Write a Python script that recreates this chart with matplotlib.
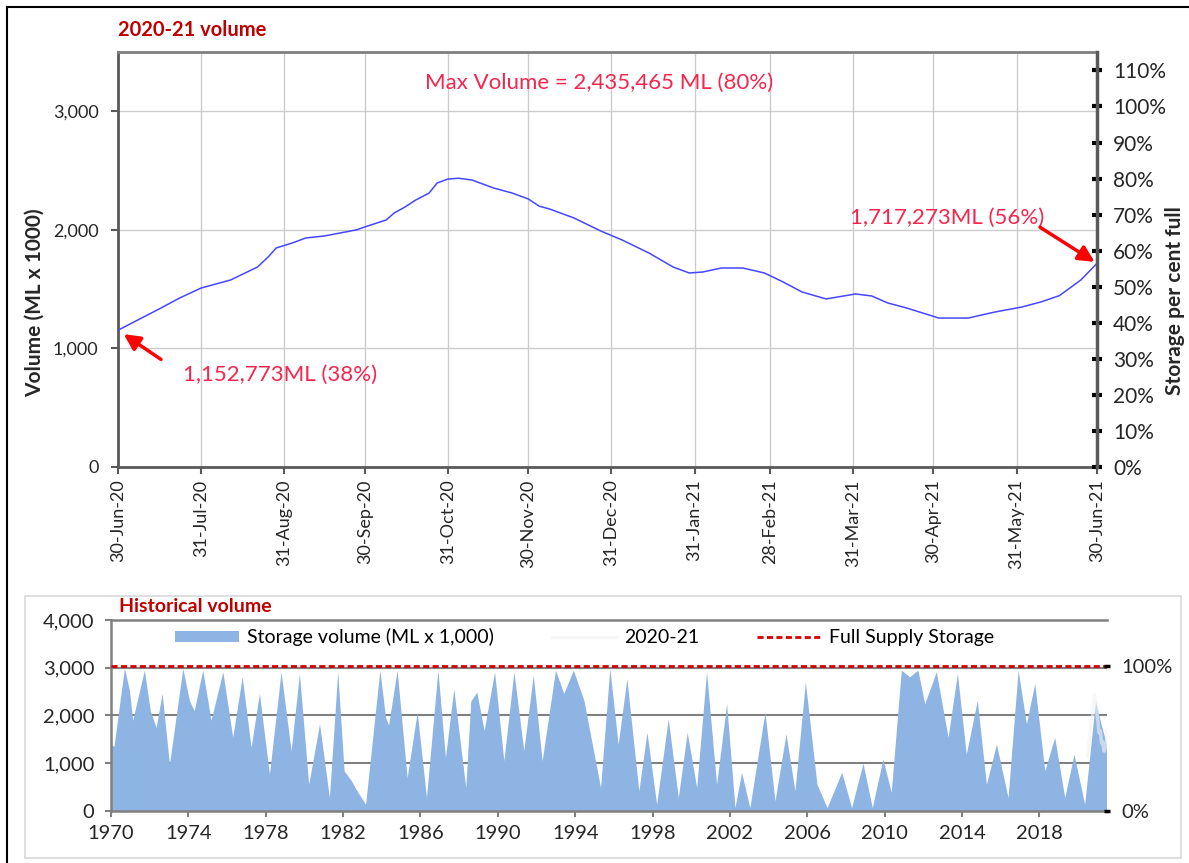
import matplotlib
matplotlib.use("Agg")
import matplotlib.pyplot as plt
from matplotlib.ticker import FuncFormatter, PercentFormatter
from matplotlib.lines import Line2D
from matplotlib.patches import Rectangle
import pandas as pd

plt.rcParams["font.family"] = ["Lato", "DejaVu Sans"]

FULL_SUPPLY = 3040  # ML x 1000, the 100% mark

# 2020-21 storage volume (ML x 1000)
season_dates = [
    "2020-06-30", "2020-07-16", "2020-07-23", "2020-07-31", "2020-08-11",
    "2020-08-21", "2020-08-25", "2020-08-28", "2020-09-03", "2020-09-08",
    "2020-09-15", "2020-09-27", "2020-09-30", "2020-10-08", "2020-10-11",
    "2020-10-15", "2020-10-19", "2020-10-24", "2020-10-27", "2020-10-31",
    "2020-11-04", "2020-11-09", "2020-11-17", "2020-11-24", "2020-11-30",
    "2020-12-04", "2020-12-08", "2020-12-17", "2020-12-27", "2021-01-04",
    "2021-01-14", "2021-01-23", "2021-01-29", "2021-02-03", "2021-02-10",
    "2021-02-18", "2021-02-26", "2021-03-05", "2021-03-12", "2021-03-21",
    "2021-04-01", "2021-04-07", "2021-04-13", "2021-04-20", "2021-05-02",
    "2021-05-13", "2021-05-23", "2021-06-02", "2021-06-09", "2021-06-16",
    "2021-06-24", "2021-06-30",
]
season_volume = [
    1153, 1340, 1425, 1509, 1577,
    1686, 1771, 1847, 1889, 1931,
    1948, 2000, 2024, 2083, 2142,
    2192, 2251, 2310, 2395, 2428,
    2435, 2420, 2353, 2310, 2260,
    2200, 2175, 2100, 1990, 1914,
    1804, 1686, 1636, 1644, 1678,
    1678, 1636, 1560, 1476, 1417,
    1459, 1442, 1383, 1341, 1256,
    1256, 1307, 1349, 1391, 1445,
    1577, 1717,
]
month_ticks = [
    "30-Jun-20", "31-Jul-20", "31-Aug-20", "30-Sep-20", "31-Oct-20",
    "30-Nov-20", "31-Dec-20", "31-Jan-21", "28-Feb-21", "31-Mar-21",
    "30-Apr-21", "31-May-21", "30-Jun-21",
]
vol_ticks = [0, 1000, 2000, 3000]
pct_ticks = list(range(0, 111, 10))

# historical volume (ML x 1000), peaks and troughs
hist_years = [
    1970.0, 1970.15, 1970.69, 1970.95, 1971.12, 1971.72, 1972.03, 1972.33,
    1972.64, 1973.02, 1973.71, 1974.05, 1974.3, 1974.74, 1975.17, 1975.78,
    1976.29, 1976.78, 1977.24, 1977.67, 1978.19, 1978.79, 1979.31, 1979.74,
    1980.22, 1980.78, 1981.29, 1981.72, 1982.05, 1982.4, 1982.72, 1983.16,
    1983.9, 1984.19, 1984.35, 1984.79, 1985.31, 1985.83, 1986.31, 1986.9,
    1987.29, 1987.72, 1988.34, 1988.6, 1988.91, 1989.29, 1989.83, 1990.31,
    1990.83, 1991.34, 1991.83, 1992.29, 1992.98, 1993.41, 1993.9, 1994.45,
    1995.31, 1995.79, 1996.22, 1996.67, 1997.29, 1997.71, 1998.21, 1998.81,
    1999.33, 1999.79, 2000.28, 2000.79, 2001.31, 2001.83, 2002.26, 2002.6,
    2003.03, 2003.81, 2004.33, 2004.9, 2005.36, 2005.9, 2006.5, 2007.02,
    2007.78, 2008.29, 2008.88, 2009.36, 2009.91, 2010.34, 2010.86, 2011.29,
    2011.72, 2012.07, 2012.67, 2013.28, 2013.76, 2014.22, 2014.79, 2015.26,
    2015.78, 2016.38, 2016.9, 2017.33, 2017.76, 2018.28, 2018.79, 2019.31,
    2019.79, 2020.34, 2020.9, 2021.2, 2021.47,
]
hist_volume = [
    1400, 1350, 2990, 2530, 1900, 2950, 2100, 1750,
    2460, 980, 2985, 2316, 2100, 2950, 1900, 2915,
    1545, 2810, 1334, 2460, 770, 2915, 1264, 2880,
    560, 1825, 280, 2915, 840, 650, 420, 140,
    2950, 1965, 1800, 2950, 700, 2070, 280, 2950,
    1120, 2560, 490, 2300, 2490, 1685, 2915, 1050,
    2915, 1264, 2845, 1050, 2950, 2460, 2950, 2316,
    490, 2985, 1400, 2770, 420, 1650, 140, 1930,
    280, 1650, 490, 2915, 560, 2245, 70, 810,
    70, 2070, 210, 1615, 420, 2700, 560, 70,
    810, 70, 1000, 70, 1090, 390, 2950, 2810,
    2950, 2245, 2915, 1545, 2880, 1190, 2316, 560,
    1400, 280, 2950, 1825, 2670, 840, 1545, 280,
    1190, 140, 2300, 1800, 1400,
]
hist_vol_ticks = [0, 1000, 2000, 3000, 4000]
hist_year_ticks = list(range(1970, 2019, 4))

RED_TEXT = "#f5254d"
DARK_RED = "#c00000"
AXIS_DARK = "#595959"
TICK_TEXT = "#262626"

fig = plt.figure(figsize=(11.89, 8.63), dpi=100)
comma = FuncFormatter(lambda v, pos: f"{v:,.0f}")

# ---------------- top: 2020-21 volume ----------------
ax = fig.add_axes([0.0992, 0.4589, 0.8234, 0.4809])
dates = pd.to_datetime(season_dates)
ax.plot(dates, season_volume, color="#4646ff", lw=1.1, zorder=3)

ticks = pd.to_datetime(month_ticks, format="%d-%b-%y")
ax.set_xlim(ticks[0], ticks[-1])
ax.set_xticks(ticks)
ax.set_xticklabels(month_ticks, rotation=90, fontsize=13, color=TICK_TEXT)
ax.set_ylim(0, 3500)
ax.set_yticks(vol_ticks)
ax.yaxis.set_major_formatter(comma)
ax.tick_params(axis="y", labelsize=13, labelcolor=TICK_TEXT, color=AXIS_DARK,
               length=5, width=1.5, pad=9)
ax.tick_params(axis="x", color=AXIS_DARK, length=5, width=1.5, pad=4)
ax.grid(True, color="#cccccc", lw=1.0)
ax.set_axisbelow(True)
for side in ("left", "bottom"):
    ax.spines[side].set_color(AXIS_DARK)
    ax.spines[side].set_linewidth(2)
ax.spines["top"].set_color("#7f7f7f")
ax.spines["top"].set_linewidth(2)
ax.spines["right"].set_visible(False)

ax.set_ylabel("Volume (ML x 1000)", fontsize=15, fontweight="bold", color=TICK_TEXT)
ax.yaxis.set_label_coords(-0.0746, 0.395)

ax2 = ax.twinx()
ax2.set_ylim(0, 3500 / FULL_SUPPLY * 100)
ax2.set_yticks(pct_ticks)
ax2.yaxis.set_major_formatter(PercentFormatter(decimals=0))
ax2.tick_params(axis="y", direction="inout", length=7, width=3, color="black",
                labelsize=15, labelcolor=TICK_TEXT, pad=8)
for side in ("left", "top", "bottom"):
    ax2.spines[side].set_visible(False)
ax2.spines["right"].set_color(AXIS_DARK)
ax2.spines["right"].set_linewidth(2.5)
ax2.set_ylabel("Storage per cent full", fontsize=15, fontweight="bold", color=TICK_TEXT)
ax2.yaxis.set_label_coords(1.0695, 0.40)

ax.text(0.0, 1.053, "2020-21 volume", transform=ax.transAxes, fontsize=14.5,
        fontweight="bold", color=DARK_RED, ha="left", va="center")

ax.text(0.491, 0.925, "Max Volume = 2,435,465 ML (80%)",
        transform=ax.transAxes, fontsize=16, color=RED_TEXT, ha="center", va="center")
ax.text(0.847, 0.600, "1,717,273ML (56%)", transform=ax.transAxes, fontsize=16,
        color=RED_TEXT, ha="center", va="center")
ax.text(0.166, 0.222, "1,152,773ML (38%)", transform=ax.transAxes, fontsize=16,
        color=RED_TEXT, ha="center", va="center")

arrow = dict(arrowstyle="-|>", color="#ff0000", lw=2.5, mutation_scale=24,
             shrinkA=0, shrinkB=2)
ax.annotate("", xy=(dates[-1], season_volume[-1]), xytext=(-41, 26),
            textcoords="offset points", arrowprops=arrow, zorder=5)
ax.annotate("", xy=(dates[0], season_volume[0]), xytext=(31, -21),
            textcoords="offset points", arrowprops=dict(arrow, shrinkB=5), zorder=5)

# ---------------- bottom: historical volume ----------------
axb = fig.add_axes([0.0934, 0.0603, 0.8377, 0.2213])
axb.fill_between(hist_years, hist_volume, color="#8db4e2", lw=0, zorder=2,
                 label="Storage volume (ML x 1,000)")
season_years = [2020.5 + (d - dates[0]).days / 365 for d in dates]
axb.plot(season_years, season_volume, color="#f2f2f2", lw=2.5, alpha=0.6, zorder=3,
         label="2020-21")
axb.axhline(FULL_SUPPLY, color="#d40000", ls=(0, (2.2, 1.2)), lw=2, zorder=4,
            label="Full Supply Storage")

axb.set_xlim(1970, 2021.5)
axb.set_ylim(0, 4000)
axb.set_xticks(hist_year_ticks)
axb.set_yticks(hist_vol_ticks)
axb.yaxis.set_major_formatter(comma)
axb.tick_params(labelsize=14.5, labelcolor=TICK_TEXT, color="#808080", length=4,
                width=1.5)
axb.tick_params(axis="y", pad=8)
axb.tick_params(axis="x", pad=6)
axb.yaxis.grid(True, color="#808080", lw=1.5)
axb.set_axisbelow(True)
for side in ("left", "bottom", "top"):
    axb.spines[side].set_color("#808080")
    axb.spines[side].set_linewidth(1.8)
axb.spines["right"].set_visible(False)

axb2 = axb.twinx()
axb2.set_ylim(0, 4000 / FULL_SUPPLY * 100)
axb2.set_yticks([0, 100])
axb2.yaxis.set_major_formatter(PercentFormatter(decimals=0))
axb2.tick_params(axis="y", direction="inout", length=4, width=2.5, color="black",
                 labelsize=14.5, labelcolor=TICK_TEXT, pad=8)
for s in axb2.spines.values():
    s.set_visible(False)

axb.text(0.008, 1.068, "Historical volume", transform=axb.transAxes, fontsize=14,
         fontweight="bold", color=DARK_RED, ha="left", va="center")
axb.legend(loc="center left", bbox_to_anchor=(0.064, 0.911), ncol=3, frameon=False,
           fontsize=14, handlelength=3.3, handleheight=0.5, handletextpad=0.4,
           columnspacing=3.0, borderpad=0, borderaxespad=0)

# panel frames
fig.patches.append(Rectangle((25 / 1189, 1 - 858 / 863), 1156 / 1189, 262 / 863,
                             transform=fig.transFigure, fill=False,
                             edgecolor="#d9d9d9", lw=1.2))
fig.lines.append(Line2D([7 / 1189, 7 / 1189], [0, 1 - 7 / 863], color="black",
                        lw=1.5, transform=fig.transFigure))
fig.lines.append(Line2D([7 / 1189, 1], [1 - 7 / 863, 1 - 7 / 863], color="black",
                        lw=1.5, transform=fig.transFigure))

fig.savefig("out.png", dpi=100)
